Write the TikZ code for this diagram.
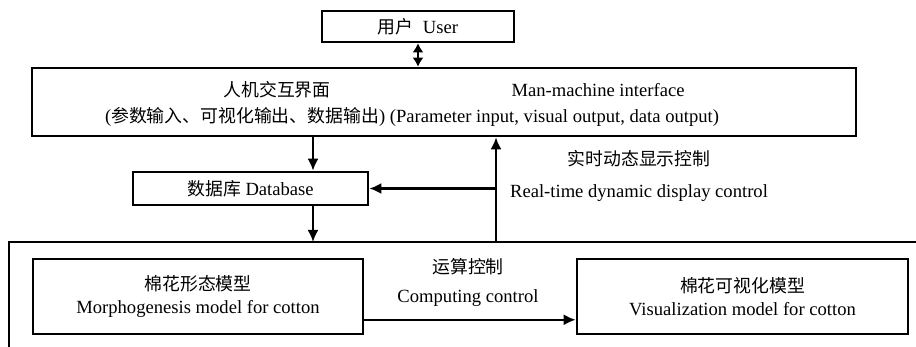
\documentclass[tikz,border=0pt]{standalone}
\usepackage{fontspec}
\setmainfont{Liberation Serif}
\newfontfamily\cjk[Scale=0.96]{Noto Sans CJK SC}
\usetikzlibrary{arrows.meta,calc}

\tikzstyle{fleche}=[-{Latex[length=6pt,width=5.5pt]},line width=1.1pt]
\tikzstyle{double}=[{Latex[length=4.5pt,width=5.5pt]}-{Latex[length=4.5pt,width=5.5pt]},line width=1.1pt]
\tikzstyle{boite}=[draw,line width=1.3pt,inner sep=0pt,align=center]
\tikzstyle{texte}=[inner sep=0pt,align=center]

\begin{document}
\begin{tikzpicture}[x=0.5pt,y=-0.5pt,font=\fontsize{9.3pt}{11.2pt}\selectfont]
\useasboundingbox (0,0) rectangle (916,347);
\node[boite,minimum width=96pt,minimum height=15.5pt] (user) at (418,26.5) {{\cjk 用户}\ \ User};
\node[boite,minimum width=412pt,minimum height=34pt] (hci) at (444,102) {};
\node[texte] (hcicn) at (277,90) {\cjk 人机交互界面};
\node[texte] (hcien) at (598,90) {Man-machine interface};
\node[texte] (hcipar) at (412,117) {({\cjk 参数输入、可视化输出、数据输出}) (Parameter input, visual output, data output)};
\node[boite,minimum width=117.5pt,minimum height=16.5pt] (db) at (250.5,188.5) {{\cjk 数据库} Database};
\node[texte] (rtlab) at (639,176) {{\cjk 实时动态显示控制}\\[5pt]Real-time dynamic display control};
\node[boite,minimum width=165pt,minimum height=37.5pt] (morph) at (198,296.5) {{\cjk 棉花形态模型}\\Morphogenesis model for cotton};
\node[boite,minimum width=165.5pt,minimum height=37.5pt] (vis) at (742.5,296.5) {{\cjk 棉花可视化模型}\\Visualization model for cotton};
\node[texte] (comp) at (468,282.5) {{\cjk 运算控制}\\[3pt]Computing control};
% cadre ouvert du bas
\coordinate (fbl) at (9,347);
\coordinate (ftr) at (916,242);
\draw[line width=1.3pt] (fbl) |- (ftr);
\coordinate (col) at (313,0);
\coordinate (col2) at (496,0);
\draw[double] (user.south) -- (user.south |- hci.north);
\draw[fleche] (hci.south -| col) -- (db.north -| col);
\draw[fleche] (db.south -| col) -- (col |- ftr);
\draw[fleche] (col2 |- ftr) -- (col2 |- hci.south);
\draw[fleche] (col2 |- db.east) -- (db.east);
\coordinate (m1) at ($(morph.south east)!0.2!(morph.north east)$);
\draw[fleche] (m1) -- (m1 -| vis.west);
\end{tikzpicture}
\end{document}
